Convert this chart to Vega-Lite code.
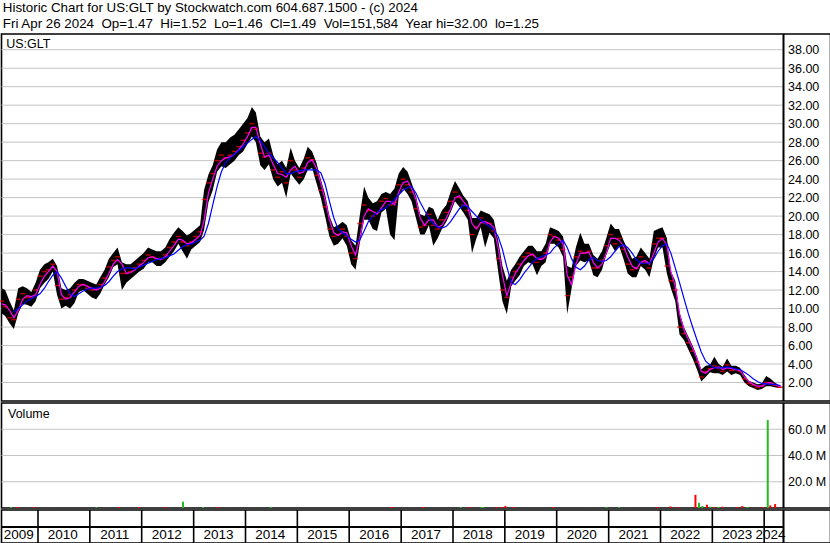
{
"$schema":"https://vega.github.io/schema/vega-lite/v6.json",
"background":"white",
"padding":{"left":-2.5,"top":0,"right":0,"bottom":0},
"spacing":2,
"bounds":"flush",
"config":{"font":"Liberation Sans","view":{"stroke":"black","strokeWidth":1.6},
"axis":{"labelFont":"Liberation Sans","labelFontSize":12.5,"labelColor":"black","ticks":false,"tickSize":0,"domain":false,"gridColor":"#c4c4c4","gridWidth":1,"labelOverlap":false,"labelFlush":false}},
"title":{"text":["Historic Chart for US:GLT by Stockwatch.com 604.687.1500 - (c) 2024","Fri Apr 26 2024\u00a0 Op=1.47\u00a0 Hi=1.52\u00a0 Lo=1.46\u00a0 Cl=1.49\u00a0 Vol=151,584\u00a0 Year hi=32.00\u00a0 lo=1.25"],"anchor":"start","fontSize":13.33,"fontWeight":"normal","font":"Liberation Sans","lineHeight":16,"offset":2,"dx":4.5,"color":"black"},
"datasets":{
"px":[
{"d":"2009-04-20","h":12.2,"l":9.5,"c":10.8,"p":10.5,"b":null},
{"d":"2009-05-15","h":12.0,"l":9.2,"c":10.2,"p":10.4,"b":null},
{"d":"2009-06-15","h":10.8,"l":8.4,"c":9.0,"p":9.8,"b":null},
{"d":"2009-07-15","h":9.8,"l":7.8,"c":8.8,"p":9.0,"b":9.6},
{"d":"2009-08-15","h":12.2,"l":9.5,"c":11.0,"p":9.8,"b":10.0},
{"d":"2009-09-15","h":12.4,"l":10.5,"c":11.6,"p":11.0,"b":10.4},
{"d":"2009-10-15","h":12.2,"l":10.4,"c":11.2,"p":11.4,"b":10.8},
{"d":"2009-11-15","h":11.8,"l":10.2,"c":11.2,"p":11.3,"b":11.1},
{"d":"2009-12-15","h":12.8,"l":10.8,"c":12.0,"p":11.5,"b":11.3},
{"d":"2010-01-15","h":14.2,"l":12.2,"c":13.5,"p":12.6,"b":11.6},
{"d":"2010-02-15","h":14.8,"l":12.8,"c":14.0,"p":13.5,"b":12.2},
{"d":"2010-03-15","h":15.0,"l":13.2,"c":14.2,"p":14.0,"b":12.9},
{"d":"2010-04-15","h":15.4,"l":14.0,"c":14.8,"p":14.6,"b":13.6},
{"d":"2010-05-15","h":14.6,"l":11.5,"c":12.5,"p":14.0,"b":14.0},
{"d":"2010-06-15","h":12.2,"l":10.0,"c":11.0,"p":11.5,"b":13.3},
{"d":"2010-07-15","h":12.0,"l":10.3,"c":11.2,"p":11.0,"b":12.4},
{"d":"2010-08-15","h":12.2,"l":10.0,"c":11.5,"p":11.2,"b":11.6},
{"d":"2010-09-15","h":12.8,"l":10.6,"c":12.0,"p":11.8,"b":11.3},
{"d":"2010-10-15","h":13.2,"l":11.8,"c":12.6,"p":12.4,"b":11.6},
{"d":"2010-11-15","h":13.2,"l":12.0,"c":12.6,"p":12.6,"b":11.9},
{"d":"2010-12-15","h":13.0,"l":11.6,"c":12.2,"p":12.4,"b":12.1},
{"d":"2011-01-15","h":12.8,"l":11.2,"c":12.0,"p":12.2,"b":12.2},
{"d":"2011-02-15","h":12.6,"l":11.0,"c":12.1,"p":12.0,"b":12.2},
{"d":"2011-03-15","h":13.4,"l":11.6,"c":12.6,"p":12.2,"b":12.3},
{"d":"2011-04-15","h":14.2,"l":12.6,"c":13.3,"p":12.9,"b":12.5},
{"d":"2011-05-15","h":15.4,"l":13.4,"c":14.5,"p":13.8,"b":12.9},
{"d":"2011-06-15","h":16.0,"l":14.5,"c":15.2,"p":14.8,"b":13.5},
{"d":"2011-07-15","h":16.6,"l":14.8,"c":15.6,"p":15.3,"b":14.0},
{"d":"2011-08-15","h":15.0,"l":12.0,"c":13.8,"p":14.8,"b":14.3},
{"d":"2011-09-15","h":14.8,"l":12.8,"c":13.8,"p":13.8,"b":14.4},
{"d":"2011-10-15","h":14.8,"l":13.2,"c":14.0,"p":13.9,"b":14.4},
{"d":"2011-11-15","h":15.2,"l":13.6,"c":14.4,"p":14.2,"b":14.3},
{"d":"2011-12-15","h":15.6,"l":14.0,"c":14.8,"p":14.6,"b":14.5},
{"d":"2012-01-15","h":16.0,"l":14.3,"c":15.2,"p":15.0,"b":14.7},
{"d":"2012-02-15","h":16.6,"l":15.0,"c":15.8,"p":15.5,"b":14.9},
{"d":"2012-03-15","h":16.4,"l":15.0,"c":15.6,"p":15.6,"b":15.1},
{"d":"2012-04-15","h":16.2,"l":14.6,"c":15.4,"p":15.4,"b":15.3},
{"d":"2012-05-15","h":16.2,"l":14.6,"c":15.4,"p":15.3,"b":15.4},
{"d":"2012-06-15","h":16.6,"l":15.0,"c":15.8,"p":15.6,"b":15.5},
{"d":"2012-07-15","h":17.5,"l":15.6,"c":16.6,"p":16.2,"b":15.7},
{"d":"2012-08-15","h":18.2,"l":16.2,"c":17.2,"p":16.8,"b":15.9},
{"d":"2012-09-15","h":18.8,"l":17.0,"c":17.8,"p":17.5,"b":16.3},
{"d":"2012-10-15","h":18.4,"l":16.2,"c":17.2,"p":17.4,"b":16.7},
{"d":"2012-11-15","h":17.9,"l":15.4,"c":16.8,"p":17.0,"b":16.9},
{"d":"2012-12-15","h":18.2,"l":16.4,"c":17.2,"p":17.1,"b":17.0},
{"d":"2013-01-15","h":18.6,"l":16.8,"c":17.8,"p":17.5,"b":17.2},
{"d":"2013-02-15","h":19.0,"l":17.2,"c":18.3,"p":17.9,"b":17.4},
{"d":"2013-03-15","h":22.8,"l":18.5,"c":21.8,"p":19.5,"b":17.8},
{"d":"2013-04-15","h":24.5,"l":21.5,"c":23.6,"p":22.5,"b":19.2},
{"d":"2013-05-15","h":25.5,"l":22.8,"c":24.6,"p":24.0,"b":21.2},
{"d":"2013-06-15","h":27.2,"l":24.8,"c":26.0,"p":25.4,"b":23.2},
{"d":"2013-07-15","h":28.0,"l":25.4,"c":26.6,"p":26.0,"b":24.8},
{"d":"2013-08-15","h":28.0,"l":25.2,"c":26.3,"p":26.3,"b":25.8},
{"d":"2013-09-15","h":28.5,"l":25.6,"c":26.6,"p":26.4,"b":26.3},
{"d":"2013-10-15","h":28.8,"l":26.0,"c":27.0,"p":26.7,"b":26.7},
{"d":"2013-11-15","h":29.4,"l":26.6,"c":27.5,"p":27.2,"b":27.1},
{"d":"2013-12-15","h":30.0,"l":27.0,"c":28.2,"p":27.8,"b":27.5},
{"d":"2014-01-15","h":30.6,"l":27.8,"c":29.0,"p":28.6,"b":27.9},
{"d":"2014-02-15","h":31.8,"l":28.6,"c":30.0,"p":29.6,"b":28.3},
{"d":"2014-03-15","h":31.2,"l":28.0,"c":29.4,"p":29.6,"b":28.6},
{"d":"2014-04-15","h":28.6,"l":25.5,"c":26.8,"p":27.8,"b":28.2},
{"d":"2014-05-15","h":28.0,"l":25.0,"c":26.4,"p":26.4,"b":27.5},
{"d":"2014-06-15","h":28.4,"l":25.6,"c":26.8,"p":26.6,"b":26.8},
{"d":"2014-07-15","h":26.6,"l":24.0,"c":25.0,"p":25.6,"b":26.3},
{"d":"2014-08-15","h":25.6,"l":23.2,"c":24.2,"p":24.6,"b":25.8},
{"d":"2014-09-15","h":26.0,"l":23.6,"c":24.8,"p":24.5,"b":25.2},
{"d":"2014-10-15","h":25.2,"l":22.0,"c":23.6,"p":24.2,"b":24.6},
{"d":"2014-11-15","h":27.4,"l":24.6,"c":26.0,"p":25.0,"b":24.6},
{"d":"2014-12-15","h":26.0,"l":24.0,"c":25.0,"p":25.4,"b":24.8},
{"d":"2015-01-15","h":25.2,"l":23.4,"c":24.2,"p":24.6,"b":24.9},
{"d":"2015-02-15","h":26.2,"l":24.0,"c":25.2,"p":24.8,"b":25.0},
{"d":"2015-03-15","h":27.5,"l":25.0,"c":26.3,"p":25.8,"b":25.0},
{"d":"2015-04-15","h":27.0,"l":25.2,"c":26.1,"p":26.1,"b":25.0},
{"d":"2015-05-15","h":25.8,"l":23.6,"c":24.4,"p":25.2,"b":25.0},
{"d":"2015-06-15","h":24.0,"l":22.0,"c":22.8,"p":23.6,"b":24.7},
{"d":"2015-07-15","h":22.4,"l":20.0,"c":21.0,"p":21.8,"b":23.5},
{"d":"2015-08-15","h":20.0,"l":17.8,"c":18.6,"p":19.6,"b":21.6},
{"d":"2015-09-15","h":18.8,"l":16.8,"c":17.8,"p":18.2,"b":19.8},
{"d":"2015-10-15","h":19.0,"l":17.0,"c":18.0,"p":17.9,"b":18.6},
{"d":"2015-11-15","h":19.4,"l":17.6,"c":18.6,"p":18.3,"b":18.2},
{"d":"2015-12-15","h":19.0,"l":16.8,"c":17.8,"p":18.2,"b":17.9},
{"d":"2016-01-15","h":17.4,"l":14.8,"c":16.0,"p":16.8,"b":17.5},
{"d":"2016-02-15","h":16.8,"l":14.2,"c":15.4,"p":15.8,"b":17.2},
{"d":"2016-03-15","h":20.0,"l":17.0,"c":19.2,"p":17.6,"b":17.4},
{"d":"2016-04-15","h":23.2,"l":19.6,"c":21.2,"p":20.0,"b":18.4},
{"d":"2016-05-15","h":22.0,"l":19.6,"c":20.6,"p":20.8,"b":19.4},
{"d":"2016-06-15","h":21.4,"l":18.6,"c":20.0,"p":20.5,"b":20.0},
{"d":"2016-07-15","h":21.6,"l":18.4,"c":20.4,"p":20.2,"b":20.4},
{"d":"2016-08-15","h":22.4,"l":20.4,"c":21.6,"p":20.9,"b":20.7},
{"d":"2016-09-15","h":22.6,"l":20.8,"c":21.9,"p":21.6,"b":20.9},
{"d":"2016-10-15","h":22.4,"l":18.0,"c":21.2,"p":21.6,"b":21.3},
{"d":"2016-11-15","h":23.0,"l":17.4,"c":21.5,"p":21.2,"b":21.8},
{"d":"2016-12-15","h":24.6,"l":22.2,"c":23.4,"p":22.6,"b":22.3},
{"d":"2017-01-15","h":25.3,"l":23.0,"c":24.0,"p":23.6,"b":22.8},
{"d":"2017-02-15","h":24.8,"l":22.4,"c":23.4,"p":23.8,"b":23.1},
{"d":"2017-03-15","h":23.6,"l":21.6,"c":22.6,"p":23.0,"b":23.2},
{"d":"2017-04-15","h":22.2,"l":19.8,"c":20.8,"p":21.8,"b":22.5},
{"d":"2017-05-15","h":20.2,"l":18.0,"c":18.8,"p":19.8,"b":21.5},
{"d":"2017-06-15","h":20.0,"l":18.0,"c":19.0,"p":19.0,"b":20.6},
{"d":"2017-07-15","h":21.0,"l":19.0,"c":20.2,"p":19.6,"b":19.8},
{"d":"2017-08-15","h":20.8,"l":16.8,"c":19.0,"p":19.6,"b":19.2},
{"d":"2017-09-15","h":19.6,"l":17.6,"c":18.6,"p":18.8,"b":18.8},
{"d":"2017-10-15","h":20.6,"l":18.6,"c":19.6,"p":19.0,"b":18.7},
{"d":"2017-11-15","h":21.2,"l":19.4,"c":20.4,"p":19.8,"b":18.9},
{"d":"2017-12-15","h":22.6,"l":20.4,"c":21.6,"p":20.8,"b":19.4},
{"d":"2018-01-15","h":23.8,"l":21.6,"c":22.6,"p":22.0,"b":20.1},
{"d":"2018-02-15","h":23.0,"l":21.0,"c":22.0,"p":22.2,"b":20.8},
{"d":"2018-03-15","h":22.2,"l":20.4,"c":21.2,"p":21.6,"b":21.2},
{"d":"2018-04-15","h":21.6,"l":19.6,"c":20.6,"p":21.0,"b":21.0},
{"d":"2018-05-15","h":19.8,"l":16.0,"c":18.0,"p":19.2,"b":20.5},
{"d":"2018-06-15","h":19.8,"l":17.6,"c":18.8,"p":18.6,"b":20.0},
{"d":"2018-07-15","h":20.6,"l":18.8,"c":19.8,"p":19.3,"b":19.6},
{"d":"2018-08-15","h":20.4,"l":16.6,"c":19.2,"p":19.4,"b":19.2},
{"d":"2018-09-15","h":20.2,"l":18.2,"c":19.2,"p":19.2,"b":18.9},
{"d":"2018-10-15","h":19.6,"l":17.6,"c":18.4,"p":18.8,"b":18.5},
{"d":"2018-11-15","h":17.4,"l":14.0,"c":15.4,"p":16.6,"b":17.8},
{"d":"2018-12-15","h":14.6,"l":10.8,"c":12.0,"p":13.6,"b":16.4},
{"d":"2019-01-15","h":13.0,"l":9.4,"c":11.2,"p":11.4,"b":14.5},
{"d":"2019-02-15","h":14.2,"l":12.4,"c":13.4,"p":12.8,"b":12.8},
{"d":"2019-03-15","h":14.8,"l":13.0,"c":14.0,"p":13.8,"b":12.6},
{"d":"2019-04-15","h":15.6,"l":13.6,"c":14.8,"p":14.5,"b":13.1},
{"d":"2019-05-15","h":16.2,"l":14.6,"c":15.6,"p":15.2,"b":13.8},
{"d":"2019-06-15","h":16.8,"l":15.0,"c":16.0,"p":15.7,"b":14.4},
{"d":"2019-07-15","h":16.8,"l":14.8,"c":15.8,"p":15.9,"b":15.0},
{"d":"2019-08-15","h":16.2,"l":13.6,"c":15.0,"p":15.4,"b":15.4},
{"d":"2019-09-15","h":16.2,"l":14.6,"c":15.4,"p":15.3,"b":15.6},
{"d":"2019-10-15","h":17.0,"l":15.0,"c":16.0,"p":15.6,"b":15.8},
{"d":"2019-11-15","h":18.8,"l":17.0,"c":18.0,"p":17.2,"b":16.0},
{"d":"2019-12-15","h":18.6,"l":17.0,"c":17.8,"p":17.8,"b":16.6},
{"d":"2020-01-15","h":18.4,"l":16.6,"c":17.4,"p":17.6,"b":17.0},
{"d":"2020-02-15","h":17.8,"l":15.6,"c":16.4,"p":17.0,"b":17.4},
{"d":"2020-03-15","h":14.6,"l":9.4,"c":11.4,"p":13.6,"b":16.6},
{"d":"2020-04-15","h":14.4,"l":12.2,"c":13.4,"p":12.6,"b":15.4},
{"d":"2020-05-15","h":16.6,"l":14.6,"c":15.6,"p":14.8,"b":14.5},
{"d":"2020-06-15","h":18.2,"l":15.2,"c":16.2,"p":16.0,"b":14.2},
{"d":"2020-07-15","h":17.0,"l":15.0,"c":16.0,"p":16.0,"b":14.6},
{"d":"2020-08-15","h":17.0,"l":15.2,"c":16.2,"p":16.1,"b":15.3},
{"d":"2020-09-15","h":15.8,"l":13.6,"c":14.4,"p":15.0,"b":15.5},
{"d":"2020-10-15","h":15.4,"l":13.4,"c":14.4,"p":14.4,"b":15.2},
{"d":"2020-11-15","h":16.2,"l":14.2,"c":15.2,"p":14.8,"b":15.1},
{"d":"2020-12-15","h":17.6,"l":15.8,"c":16.8,"p":16.0,"b":15.2},
{"d":"2021-01-15","h":19.2,"l":17.0,"c":18.0,"p":17.6,"b":15.6},
{"d":"2021-02-15","h":18.6,"l":16.2,"c":17.0,"p":17.6,"b":16.2},
{"d":"2021-03-15","h":18.6,"l":16.8,"c":17.6,"p":17.4,"b":16.7},
{"d":"2021-04-15","h":17.4,"l":15.4,"c":16.4,"p":16.8,"b":16.9},
{"d":"2021-05-15","h":16.4,"l":13.8,"c":14.8,"p":15.6,"b":16.6},
{"d":"2021-06-15","h":15.4,"l":13.4,"c":14.2,"p":14.6,"b":16.0},
{"d":"2021-07-15","h":15.6,"l":13.4,"c":14.4,"p":14.3,"b":15.3},
{"d":"2021-08-15","h":16.6,"l":14.6,"c":15.6,"p":15.0,"b":14.9},
{"d":"2021-09-15","h":16.0,"l":14.2,"c":15.0,"p":15.2,"b":14.9},
{"d":"2021-10-15","h":15.4,"l":13.4,"c":14.4,"p":14.8,"b":14.9},
{"d":"2021-11-15","h":18.4,"l":15.4,"c":17.0,"p":16.0,"b":15.4},
{"d":"2021-12-15","h":18.6,"l":16.6,"c":17.6,"p":17.2,"b":16.2},
{"d":"2022-01-15","h":18.8,"l":16.6,"c":17.6,"p":17.6,"b":16.8},
{"d":"2022-02-15","h":17.6,"l":13.8,"c":14.6,"p":16.8,"b":17.0},
{"d":"2022-03-15","h":14.0,"l":12.2,"c":13.0,"p":14.0,"b":16.0},
{"d":"2022-04-15","h":13.0,"l":10.8,"c":12.0,"p":12.4,"b":14.4},
{"d":"2022-05-15","h":9.6,"l":7.2,"c":8.0,"p":9.4,"b":12.8},
{"d":"2022-06-15","h":8.0,"l":6.6,"c":7.3,"p":7.7,"b":11.1},
{"d":"2022-07-15","h":7.0,"l":5.6,"c":6.3,"p":6.7,"b":9.5},
{"d":"2022-08-15","h":6.0,"l":4.6,"c":5.4,"p":5.7,"b":8.0},
{"d":"2022-09-15","h":4.8,"l":3.4,"c":4.2,"p":4.6,"b":6.6},
{"d":"2022-10-15","h":3.4,"l":2.1,"c":2.6,"p":3.2,"b":5.3},
{"d":"2022-11-15","h":3.8,"l":2.6,"c":3.2,"p":3.0,"b":4.3},
{"d":"2022-12-15","h":3.9,"l":3.1,"c":3.5,"p":3.4,"b":3.9},
{"d":"2023-01-15","h":4.8,"l":3.0,"c":3.8,"p":3.6,"b":3.6},
{"d":"2023-02-15","h":4.0,"l":3.0,"c":3.5,"p":3.7,"b":3.55},
{"d":"2023-03-15","h":3.7,"l":2.8,"c":3.2,"p":3.4,"b":3.6},
{"d":"2023-04-15","h":4.6,"l":3.2,"c":3.9,"p":3.6,"b":3.7},
{"d":"2023-05-15","h":3.8,"l":2.8,"c":3.3,"p":3.5,"b":3.6},
{"d":"2023-06-15","h":3.8,"l":3.0,"c":3.4,"p":3.4,"b":3.45},
{"d":"2023-07-15","h":3.6,"l":2.8,"c":3.2,"p":3.3,"b":3.4},
{"d":"2023-08-15","h":2.8,"l":2.0,"c":2.4,"p":2.6,"b":3.1},
{"d":"2023-09-15","h":2.2,"l":1.6,"c":1.9,"p":2.1,"b":2.8},
{"d":"2023-10-15","h":2.0,"l":1.4,"c":1.7,"p":1.8,"b":2.4},
{"d":"2023-11-15","h":1.8,"l":1.2,"c":1.45,"p":1.6,"b":2.1},
{"d":"2023-12-15","h":1.9,"l":1.3,"c":1.6,"p":1.6,"b":1.9},
{"d":"2024-01-15","h":2.7,"l":1.6,"c":2.0,"p":1.9,"b":1.85},
{"d":"2024-02-15","h":2.4,"l":1.6,"c":1.9,"p":2.0,"b":1.8},
{"d":"2024-03-15","h":2.0,"l":1.5,"c":1.7,"p":1.8,"b":1.8},
{"d":"2024-04-15","h":1.7,"l":1.4,"c":1.5,"p":1.6,"b":1.7},
{"d":"2024-04-26","h":1.52,"l":1.46,"c":1.49,"p":1.55,"b":1.65}
],
"vol":[
{"d":"2009-06-24","v":800000,"k":"up"},
{"d":"2009-08-09","v":800000,"k":"dn"},
{"d":"2009-12-06","v":800000,"k":"dn"},
{"d":"2011-02-16","v":800000,"k":"up"},
{"d":"2011-07-24","v":800000,"k":"dn"},
{"d":"2011-12-13","v":800000,"k":"dn"},
{"d":"2012-06-16","v":800000,"k":"dn"},
{"d":"2012-10-18","v":4800000,"k":"up"},
{"d":"2013-03-08","v":800000,"k":"up"},
{"d":"2013-06-21","v":800000,"k":"dn"},
{"d":"2014-06-28","v":800000,"k":"up"},
{"d":"2016-10-25","v":800000,"k":"dn"},
{"d":"2017-06-06","v":800000,"k":"dn"},
{"d":"2018-02-25","v":800000,"k":"up"},
{"d":"2018-04-27","v":800000,"k":"dn"},
{"d":"2018-07-20","v":800000,"k":"up"},
{"d":"2018-07-27","v":800000,"k":"up"},
{"d":"2018-08-03","v":800000,"k":"up"},
{"d":"2018-11-03","v":800000,"k":"dn"},
{"d":"2018-12-08","v":800000,"k":"dn"},
{"d":"2019-01-05","v":1600000,"k":"dn"},
{"d":"2019-03-02","v":800000,"k":"dn"},
{"d":"2019-12-08","v":800000,"k":"dn"},
{"d":"2020-12-16","v":800000,"k":"up"},
{"d":"2021-03-16","v":800000,"k":"up"},
{"d":"2021-12-10","v":800000,"k":"dn"},
{"d":"2022-03-12","v":1200000,"k":"dn"},
{"d":"2022-05-01","v":800000,"k":"dn"},
{"d":"2022-09-04","v":10000000,"k":"dn"},
{"d":"2022-09-29","v":4000000,"k":"up"},
{"d":"2022-10-23","v":1500000,"k":"up"},
{"d":"2022-11-24","v":2500000,"k":"dn"},
{"d":"2022-12-18","v":1000000,"k":"up"},
{"d":"2023-01-15","v":800000,"k":"dn"},
{"d":"2023-02-13","v":800000,"k":"up"},
{"d":"2023-03-13","v":1000000,"k":"dn"},
{"d":"2023-06-24","v":800000,"k":"dn"},
{"d":"2023-07-31","v":1500000,"k":"dn"},
{"d":"2023-09-05","v":800000,"k":"up"},
{"d":"2023-12-19","v":800000,"k":"dn"},
{"d":"2024-01-26","v":67000000,"k":"up"},
{"d":"2024-02-13","v":2000000,"k":"dn"},
{"d":"2024-03-18","v":3000000,"k":"dn"}
],
"gp":[{"g":2},{"g":4},{"g":6},{"g":8},{"g":10},{"g":12},{"g":14},{"g":16},{"g":18},{"g":20},{"g":22},{"g":24},{"g":26},{"g":28},{"g":30},{"g":32},{"g":34},{"g":36},{"g":38}],
"gv":[{"g":20000000},{"g":40000000},{"g":60000000}],
"yb":[{"d":"2010-01-01"},{"d":"2011-01-01"},{"d":"2012-01-01"},{"d":"2013-01-01"},{"d":"2014-01-01"},{"d":"2015-01-01"},{"d":"2016-01-01"},{"d":"2017-01-01"},{"d":"2018-01-01"},{"d":"2019-01-01"},{"d":"2020-01-01"},{"d":"2021-01-01"},{"d":"2022-01-01"},{"d":"2023-01-01"},{"d":"2024-01-01"}],
"yl":[{"d":"2009-08-18","t":"2009"},{"d":"2010-06-25","t":"2010"},{"d":"2011-06-25","t":"2011"},{"d":"2012-06-25","t":"2012"},{"d":"2013-06-25","t":"2013"},{"d":"2014-06-25","t":"2014"},{"d":"2015-06-25","t":"2015"},{"d":"2016-06-25","t":"2016"},{"d":"2017-06-25","t":"2017"},{"d":"2018-06-25","t":"2018"},{"d":"2019-06-25","t":"2019"},{"d":"2020-06-25","t":"2020"},{"d":"2021-06-25","t":"2021"},{"d":"2022-06-25","t":"2022"},{"d":"2023-06-25","t":"2023"},{"d":"2024-02-15","t":"2024"}]
},
"vconcat":[
{
"width":829,"height":367,
"title":{"text":"US:GLT","anchor":"start","offset":-17,"dx":7,"fontSize":12.5,"fontWeight":"normal","color":"black"},
"layer":[
{"data":{"name":"gp"},"mark":{"type":"rule","color":"#c4c4c4","strokeWidth":1},"encoding":{"x":{"datum":{"year":2009,"month":4,"date":19},"type":"temporal","axis":null,"scale":{"nice":false,"range":[0,782],"domain":[{"year":2009,"month":4,"date":19},{"year":2024,"month":5,"date":16}]}},"x2":{"datum":{"year":2024,"month":5,"date":16}},"y":{"field":"g","type":"quantitative","title":null,"scale":{"domain":[0,39.7],"nice":false,"zero":false},"axis":{"orient":"right","offset":-47,"values":[2,4,6,8,10,12,14,16,18,20,22,24,26,28,30,32,34,36,38],"format":".2f","grid":false,"labelPadding":4,"labelOverlap":false,"labelSeparation":0}}}},
{"data":{"name":"px"},"mark":{"type":"area","color":"black"},"encoding":{"x":{"field":"d","type":"temporal","title":null,"axis":{"labels":false,"grid":true,"values":[{"year":2010,"month":1,"date":1},{"year":2011,"month":1,"date":1},{"year":2012,"month":1,"date":1},{"year":2013,"month":1,"date":1},{"year":2014,"month":1,"date":1},{"year":2015,"month":1,"date":1},{"year":2016,"month":1,"date":1},{"year":2017,"month":1,"date":1},{"year":2018,"month":1,"date":1},{"year":2019,"month":1,"date":1},{"year":2020,"month":1,"date":1},{"year":2021,"month":1,"date":1},{"year":2022,"month":1,"date":1},{"year":2023,"month":1,"date":1},{"year":2024,"month":1,"date":1}]}},"y":{"field":"l","type":"quantitative","title":null,"axis":{"orient":"right","offset":-47,"values":[2,4,6,8,10,12,14,16,18,20,22,24,26,28,30,32,34,36,38],"format":".2f","grid":false,"labelPadding":4,"labelOverlap":false,"labelSeparation":0}},"y2":{"field":"h"}}},
{"data":{"name":"px"},"mark":{"type":"tick","orient":"horizontal","color":"#ff0000","thickness":1.5,"size":5},"encoding":{"x":{"field":"d","type":"temporal","axis":null},"y":{"field":"c","type":"quantitative","title":null,"axis":{"orient":"right","offset":-47,"values":[2,4,6,8,10,12,14,16,18,20,22,24,26,28,30,32,34,36,38],"format":".2f","grid":false,"labelPadding":4,"labelOverlap":false,"labelSeparation":0}}}},
{"data":{"name":"px"},"mark":{"type":"line","color":"#ff00ff","strokeWidth":1.2},"encoding":{"x":{"field":"d","type":"temporal","axis":null},"y":{"field":"p","type":"quantitative","title":null,"axis":{"orient":"right","offset":-47,"values":[2,4,6,8,10,12,14,16,18,20,22,24,26,28,30,32,34,36,38],"format":".2f","grid":false,"labelPadding":4,"labelOverlap":false,"labelSeparation":0}}}},
{"data":{"name":"px"},"mark":{"type":"line","color":"#0000ff","strokeWidth":1.2},"encoding":{"x":{"field":"d","type":"temporal","axis":null},"y":{"field":"b","type":"quantitative","title":null,"axis":{"orient":"right","offset":-47,"values":[2,4,6,8,10,12,14,16,18,20,22,24,26,28,30,32,34,36,38],"format":".2f","grid":false,"labelPadding":4,"labelOverlap":false,"labelSeparation":0}}}},
{"data":{"values":[{"e":1}]},"mark":{"type":"rule","color":"black","strokeWidth":2},"encoding":{"x":{"datum":{"year":2024,"month":5,"date":16},"type":"temporal","axis":null}}}
]
},
{
"width":829,"height":105,
"title":{"text":"Volume","anchor":"start","offset":-18,"dx":7,"fontSize":12.5,"fontWeight":"normal","color":"black"},
"layer":[
{"data":{"name":"gv"},"mark":{"type":"rule","color":"#c4c4c4","strokeWidth":1},"encoding":{"x":{"datum":{"year":2009,"month":4,"date":19},"type":"temporal","axis":null,"scale":{"nice":false,"range":[0,782],"domain":[{"year":2009,"month":4,"date":19},{"year":2024,"month":5,"date":16}]}},"x2":{"datum":{"year":2024,"month":5,"date":16}},"y":{"field":"g","type":"quantitative","title":null,"scale":{"domain":[0,80000000],"nice":false},"axis":{"orient":"right","offset":-47,"values":[20000000,40000000,60000000],"labelExpr":"format(datum.value/1000000,'.1f') + ' M'","grid":false,"labelPadding":4,"labelOverlap":false}}}},
{"data":{"name":"vol"},"mark":{"type":"rule","strokeWidth":2},"encoding":{"x":{"field":"d","type":"temporal","title":null,"axis":{"labels":false,"grid":true,"values":[{"year":2010,"month":1,"date":1},{"year":2011,"month":1,"date":1},{"year":2012,"month":1,"date":1},{"year":2013,"month":1,"date":1},{"year":2014,"month":1,"date":1},{"year":2015,"month":1,"date":1},{"year":2016,"month":1,"date":1},{"year":2017,"month":1,"date":1},{"year":2018,"month":1,"date":1},{"year":2019,"month":1,"date":1},{"year":2020,"month":1,"date":1},{"year":2021,"month":1,"date":1},{"year":2022,"month":1,"date":1},{"year":2023,"month":1,"date":1},{"year":2024,"month":1,"date":1}]}},"y":{"field":"v","type":"quantitative","title":null,"axis":{"orient":"right","offset":-47,"values":[20000000,40000000,60000000],"labelExpr":"format(datum.value/1000000,'.1f') + ' M'","grid":false,"labelPadding":4,"labelOverlap":false}},"y2":{"datum":0},"color":{"field":"k","type":"nominal","scale":{"domain":["up","dn"],"range":["#22bb22","#ff0000"]},"legend":null}}},
{"data":{"values":[{"e":1}]},"mark":{"type":"rule","color":"black","strokeWidth":2},"encoding":{"x":{"datum":{"year":2024,"month":5,"date":16},"type":"temporal","axis":null}}}
]
},
{
"width":829,"height":33,
"layer":[
{"data":{"name":"yb"},"mark":{"type":"rule","color":"black","strokeWidth":1.6},"encoding":{"x":{"field":"d","type":"temporal","title":null,"scale":{"nice":false,"range":[0,782],"domain":[{"year":2009,"month":4,"date":19},{"year":2024,"month":5,"date":16}]},"axis":null}}},
{"data":{"values":[{"e":1}]},"mark":{"type":"rule","color":"black","strokeWidth":2},"encoding":{"x":{"datum":{"year":2024,"month":5,"date":16},"type":"temporal","axis":null}}},
{"data":{"values":[{"r":16}]},"mark":{"type":"rule","color":"black","strokeWidth":2},"encoding":{"x":{"datum":{"year":2009,"month":4,"date":19},"type":"temporal","axis":null},"x2":{"datum":{"year":2024,"month":5,"date":16}},"y":{"field":"r","type":"quantitative","title":null,"scale":{"domain":[0,33],"nice":false},"axis":null}}},
{"data":{"name":"yl"},"mark":{"type":"text","fontSize":13.5,"baseline":"middle","color":"black","font":"Liberation Sans"},"encoding":{"x":{"field":"d","type":"temporal","axis":null},"y":{"datum":8,"type":"quantitative","axis":null},"text":{"field":"t"}}}
]
}
]
}
